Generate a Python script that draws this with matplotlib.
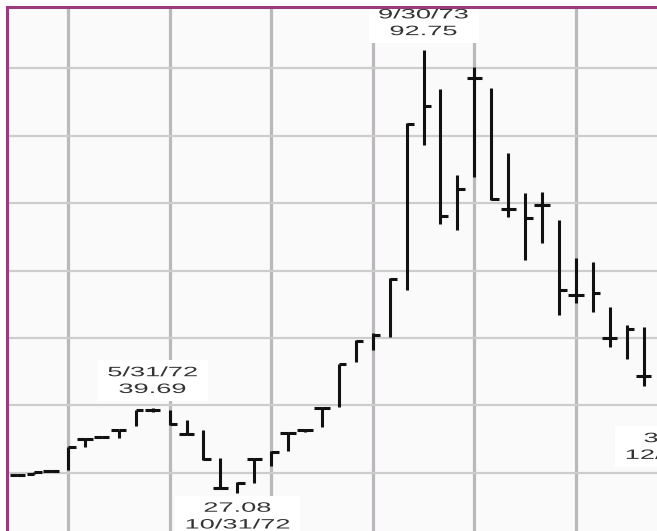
import numpy as np
import matplotlib
matplotlib.use("Agg")
import matplotlib.pyplot as plt
from matplotlib.patheffects import AbstractPathEffect
from matplotlib.transforms import Affine2D, ScaledTranslation

# ---------------- data (monthly bars) ----------------
months = ["9/71", "10/71", "11/71", "12/71",
          "1/72", "2/72", "3/72", "4/72", "5/72", "6/72",
          "7/72", "8/72", "9/72", "10/72", "11/72", "12/72",
          "1/73", "2/73", "3/73", "4/73", "5/73", "6/73",
          "7/73", "8/73", "9/73", "10/73", "11/73", "12/73",
          "1/74", "2/74", "3/74", "4/74", "5/74", "6/74",
          "7/74", "8/74", "9/74", "10/74", "11/74"]
highs = [29.85, 30.2, 30.45, 33.85,
         35.2, 35.5, 36.4, 39.3, 39.69, 39.3,
         37.85, 36.35, 32.2, 28.6, 32.2, 33.25,
         36.05, 36.45, 39.8, 46.15, 49.7, 50.75,
         58.9, 81.9, 92.75, 86.95, 74.2, 90.2,
         87.1, 77.4, 71.5, 71.65, 67.5, 61.9,
         61.3, 54.6, 51.9, 51.6, 44.5]
lows = [29.55, 29.8, 30.15, 30.45,
        33.85, 35.15, 35.2, 36.9, 39.0, 37.1,
        35.6, 31.9, 27.6, 27.08, 28.5, 31.0,
        33.2, 36.05, 36.8, 39.8, 46.45, 48.2,
        50.15, 57.1, 78.6, 66.9, 66.0, 73.9,
        70.5, 67.9, 61.6, 64.1, 53.4, 55.2,
        53.9, 48.7, 46.9, 42.9, 40.5]
closes = [29.7, 30.1, 30.3, 33.85,
          35.1, 35.35, 36.3, 39.3, 39.4, 37.2,
          35.7, 32.0, 27.8, 28.5, 32.0, 33.1,
          35.9, 36.3, 39.6, 46.1, 49.6, 50.5,
          58.8, 81.8, 84.4, 68.1, 72.1, 88.6,
          70.6, 69.1, 67.8, 69.7, 57.1, 56.4,
          56.7, 50.0, 51.3, 44.4, 41.0]
nan = np.nan
# left (open) ticks, only where they are visible on the chart
opens = [29.7, 29.85, 30.3, nan,
         35.1, 35.35, 36.3, nan, 39.4, nan,
         35.7, nan, 27.8, nan, 32.0, nan,
         35.9, 36.3, 39.6, nan, nan, nan,
         nan, nan, nan, nan, nan, 88.6,
         nan, 69.1, nan, 69.7, nan, 56.4,
         nan, 50.0, nan, 44.4, nan]

# annotations: (month, text, above/below)
ann_months = ["5/72", "9/73", "10/72", "12/74"]
ann_prices = [39.69, 92.75, 27.08, 37.40]
ann_texts = ["5/31/72\n39.69", "9/30/73\n92.75", "27.08\n10/31/72", "37.40\n12/31/74"]
ann_side = ["high", "high", "low", "low"]

grid_prices = [30, 40, 50, 60, 70, 80, 90]

# ---------------- figure ----------------
W, H, DPI = 657, 531, 100
fig = plt.figure(figsize=(W / DPI, H / DPI), dpi=DPI, facecolor="white")

px_per_month = 16.93
x_first_dec = 68.0          # pixel of 12/71 bar
idx_dec = months.index("12/71")
left_px, top_px = 7.0, 7.0
ax = fig.add_axes([left_px / W, 0, (W - left_px) / W, (H - top_px) / H])

x_left = idx_dec - (x_first_dec - left_px) / px_per_month
x_right = idx_dec + (W - x_first_dec) / px_per_month
ax.set_xlim(x_left, x_right)
px_per_unit = 6.744
y40_px = 405.5
ax.set_ylim(40 - (H - y40_px) / px_per_unit, 40 + (y40_px - top_px) / px_per_unit)
ax.set_facecolor("#fafafa")

# grid
pos = np.arange(len(months))
grid_x = [i for i, m in enumerate(months) if m.split("/")[0] in ("6", "12")]
ax.set_xticks(grid_x)
ax.set_yticks(grid_prices)
ax.tick_params(length=0, labelbottom=False, labelleft=False)
ax.grid(axis="x", color="#bcb7bc", linewidth=2.3, zorder=0)
ax.grid(axis="y", color="#cdcdcd", linewidth=1.6, zorder=0)
ax.set_axisbelow(True)

for s in ("right", "bottom"):
    ax.spines[s].set_visible(False)
for s in ("top", "left"):
    ax.spines[s].set_color("#9a3b7e")
    ax.spines[s].set_linewidth(2.2)
    ax.spines[s].set_zorder(10)

# bars
hi = np.array(highs)
lo = np.array(lows)
cl = np.array(closes)
op = np.array(opens)
tick = 0.45
lw = 2.2
col = "#111111"
ax.vlines(pos, lo, hi, colors=col, linewidth=lw, zorder=4, capstyle="butt")
ax.hlines(cl, pos, pos + tick, colors=col, linewidth=lw, zorder=4, capstyle="butt")
m = ~np.isnan(op)
ax.hlines(op[m], pos[m] - tick, pos[m], colors=col, linewidth=lw, zorder=4, capstyle="butt")


# horizontally stretched label text (the reference type is very wide)
class HStretch(AbstractPathEffect):
    def __init__(self, text, sx):
        super().__init__()
        self.text = text
        self.sx = sx

    def draw_path(self, renderer, gc, tpath, affine, rgbFace=None):
        cx = self.text.get_transform().transform(self.text.get_position())[0]
        st = Affine2D().translate(-cx, 0).scale(self.sx, 1).translate(cx, 0)
        renderer.draw_path(gc, tpath, affine + st, rgbFace)


for mth, price, txt, side in zip(ann_months, ann_prices, ann_texts, ann_side):
    if mth in months:
        xi = months.index(mth)
    else:
        mo, yr = mth.split("/")
        last_mo, last_yr = months[-1].split("/")
        xi = len(months) - 1 + (int(yr) - int(last_yr)) * 12 + int(mo) - int(last_mo)
    dy = 27.0 if side == "high" else -23.5
    tr = ax.transData + ScaledTranslation(0, dy / DPI, fig.dpi_scale_trans)
    t = ax.text(xi, price, txt, transform=tr, ha="center", va="center",
                fontsize=9.8, family="Liberation Sans", color="#333333",
                linespacing=1.25, zorder=3, clip_on=False,
                bbox=dict(boxstyle="square,pad=0.35", fc="white", ec="none"))
    eff = HStretch(t, 2.0)
    t.set_path_effects([eff])
    t.get_bbox_patch().set_path_effects([eff])

fig.savefig("out.png", dpi=DPI, facecolor="white")
